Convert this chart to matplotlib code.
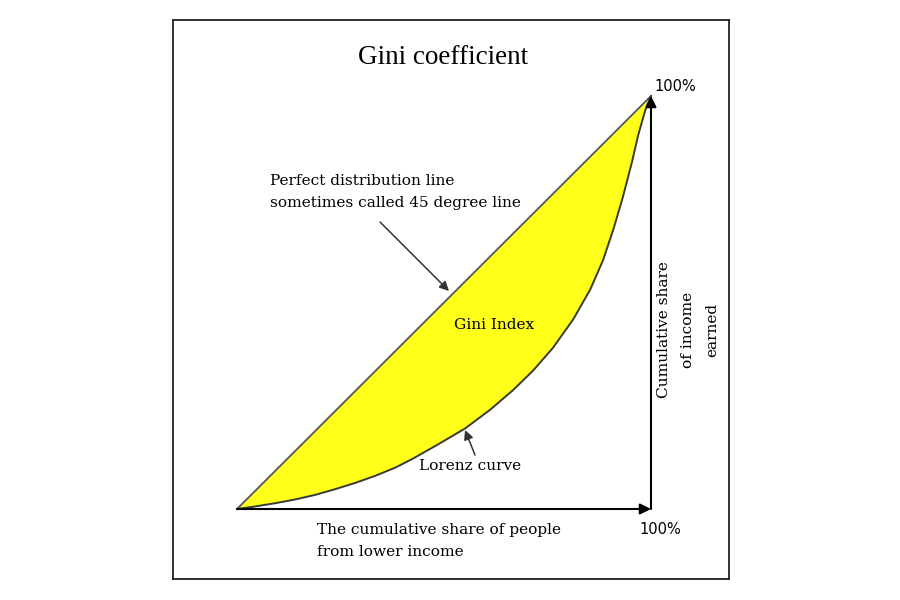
import matplotlib
matplotlib.use("Agg")
import matplotlib.pyplot as plt
import numpy as np

# Lorenz curve points (cumulative share of people, cumulative share of income)
pop_share = [0.0, 0.043, 0.092, 0.140, 0.188, 0.237, 0.285, 0.333, 0.382, 0.425,
             0.490, 0.551, 0.611, 0.667, 0.715, 0.763, 0.812, 0.853, 0.884, 0.910,
             0.932, 0.954, 0.969, 0.986, 1.0]
income_share = [0.0, 0.006, 0.014, 0.023, 0.034, 0.048, 0.063, 0.080, 0.100, 0.122,
                0.159, 0.195, 0.240, 0.288, 0.335, 0.390, 0.459, 0.531, 0.602, 0.680,
                0.755, 0.840, 0.905, 0.965, 1.0]
equality = [0.0, 1.0]

title = "Gini coefficient"
perfect_label = "Perfect distribution line\nsometimes called 45 degree line"
gini_label = "Gini Index"
lorenz_label = "Lorenz curve"
x_label = "The cumulative share of people\nfrom lower income"
y_label = "Cumulative share\nof income\nearned"
end_label = "100%"

W, H = 900, 600
fig = plt.figure(figsize=(9, 6), dpi=100)
fig.patch.set_facecolor("white")

# frame box in pixels
fl, fr, ft, fb = 173, 729, 20, 579
ax = fig.add_axes([fl / W, 1 - fb / H, (fr - fl) / W, (fb - ft) / H])
ox, oy = 237, 509
sx, sy = 414, 413
ax.set_xlim((fl - ox) / sx, (fr - ox) / sx)
ax.set_ylim((oy - fb) / sy, (oy - ft) / sy)
ax.set_xticks([]); ax.set_yticks([])
for s in ax.spines.values():
    s.set_linewidth(1.3)
    s.set_color("#222222")

title_font = ["Liberation Serif", "DejaVu Serif"]
label_font = ["DejaVu Serif"]
fs = 11.1

# fill between equality and Lorenz
eq_interp = np.array(pop_share)
ax.fill_between(pop_share, income_share, eq_interp, color="#FFFF1A", zorder=1, linewidth=0)
ax.plot(equality, equality, color="#555555", lw=1.3, zorder=2)
ax.plot(pop_share, income_share, color="#3a3a3a", lw=1.4, zorder=2)

# axis arrows
ax.annotate("", xy=(1.0, 0.0), xytext=(0.0, 0.0),
            arrowprops=dict(arrowstyle="-|>", color="black", lw=1.5, mutation_scale=16,
                            shrinkA=0, shrinkB=0), zorder=3)
ax.annotate("", xy=(1.0, 1.0), xytext=(1.0, 0.0),
            arrowprops=dict(arrowstyle="-|>", color="black", lw=1.5, mutation_scale=16,
                            shrinkA=0, shrinkB=0), zorder=3)

def px(x, y):
    return ((x - ox) / sx, (oy - y) / sy)

ax.text(*px(443, 58), title, family=title_font, fontsize=19.5, ha="center", va="center")
ax.text(*px(654, 87), end_label, family="DejaVu Sans", fontsize=10.5, ha="left", va="center")
ax.text(*px(660, 529), end_label, family="DejaVu Sans", fontsize=10.5, ha="center", va="center")

ax.text(*px(270, 192), perfect_label, family=label_font, fontsize=fs, ha="left", va="center",
        linespacing=1.68)
ax.annotate("", xy=px(449, 291), xytext=px(380, 222),
            arrowprops=dict(arrowstyle="-|>", color="#333333", lw=1.1, mutation_scale=14,
                            shrinkA=0, shrinkB=0))

ax.text(*px(494, 325), gini_label, family=label_font, fontsize=fs, ha="center", va="center")

ax.text(*px(470, 466), lorenz_label, family=label_font, fontsize=fs, ha="center", va="center")
ax.annotate("", xy=px(465, 430), xytext=px(475, 455),
            arrowprops=dict(arrowstyle="-|>", color="#333333", lw=1.1, mutation_scale=14,
                            shrinkA=0, shrinkB=0))

ax.text(*px(317, 541), x_label, family=label_font, fontsize=fs, ha="left", va="center",
        linespacing=1.68)
ax.text(*px(688, 330), y_label, family=label_font, fontsize=fs, ha="center", va="center",
        rotation=90, linespacing=1.9, multialignment="center")

fig.savefig("out.png", dpi=100, facecolor="white")
